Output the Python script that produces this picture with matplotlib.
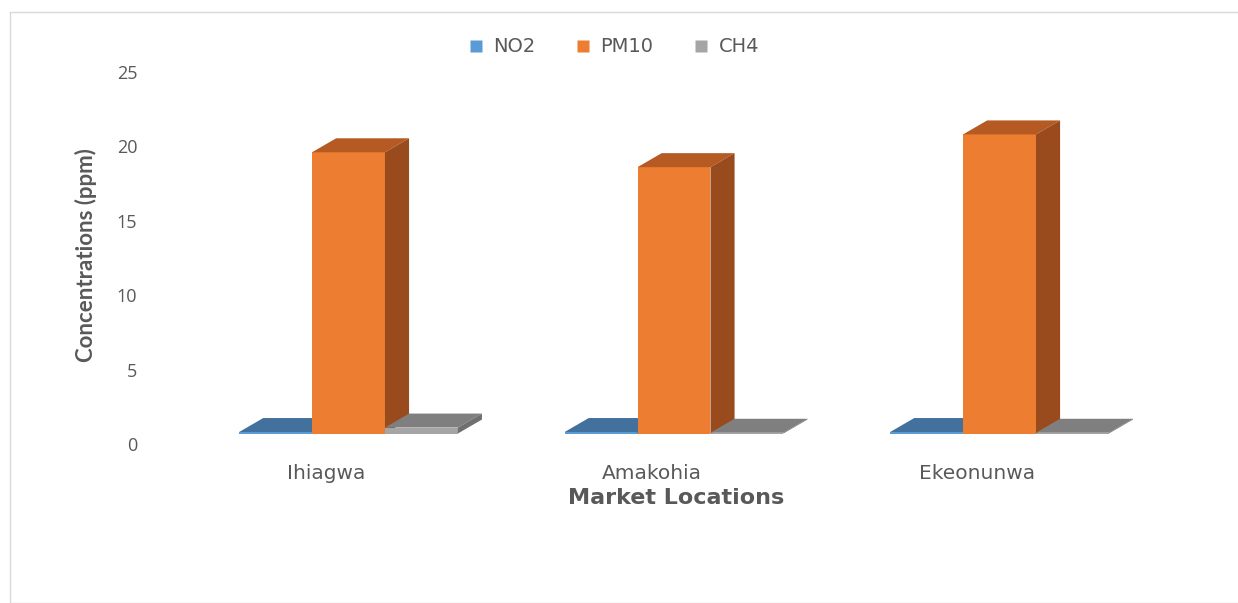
import matplotlib
matplotlib.use("Agg")
import matplotlib.pyplot as plt
import matplotlib.transforms as mtransforms
from matplotlib.patches import Polygon, Rectangle
from matplotlib.lines import Line2D

plt.rcParams['font.family'] = ['Open Sans', 'DejaVu Sans']

locations = ["Ihiagwa", "Amakohia", "Ekeonunwa"]
series = ["NO2", "PM10", "CH4"]
no2 = [0.1, 0.1, 0.1]
pm10 = [18.9, 17.9, 20.1]
ch4 = [0.4, 0.05, 0.05]
values = [no2, pm10, ch4]

# front, top, side colours for each series
front_cols = ["#5B9BD5", "#ED7D31", "#A5A5A5"]
top_cols = ["#41719C", "#B45A22", "#7F7F7F"]
side_cols = ["#3A6590", "#9A4B1D", "#6F6F6F"]
txt = "#595959"

W, H = 1238, 603
fig = plt.figure(figsize=(W / 100, H / 100), dpi=100)

# light frame round the chart area
fig.patches.append(Rectangle((10 / W, 0), 1.0, 1 - 12 / H, transform=fig.transFigure,
                             fill=False, edgecolor="#D9D9D9", linewidth=1.0))

ax = fig.add_axes([0.15004, 0.2564, 0.8151, 0.6663])
ax.set_xlim(-0.5, 2.6)
ax.set_ylim(-1, 26)

bw = 0.224      # bar width in category units
dx = 0.074      # depth offset (x)
dy = 0.94       # depth offset (y)

for i, loc in enumerate(locations):
    for s in range(3):
        v = values[s][i]
        x0 = i + (s - 1.5) * bw
        x1 = x0 + bw
        z = 10 + s
        ax.bar(x0, v, width=bw, align="edge", color=front_cols[s], zorder=z, linewidth=0)
        ax.add_patch(Polygon([(x0, v), (x1, v), (x1 + dx, v + dy), (x0 + dx, v + dy)],
                             closed=True, facecolor=top_cols[s], edgecolor="none", zorder=z))
        ax.add_patch(Polygon([(x1, 0), (x1, v), (x1 + dx, v + dy), (x1 + dx, dy)],
                             closed=True, facecolor=side_cols[s], edgecolor="none", zorder=z))

for sp in ax.spines.values():
    sp.set_visible(False)
ax.tick_params(length=0)

ax.set_yticks([0, 5, 10, 15, 20, 25])
ax.set_yticklabels(["0", "5", "10", "15", "20", "25"], fontsize=13, color=txt)
ax.tick_params(axis="y", pad=35)
yshift = mtransforms.ScaledTranslation(0, -0.105, fig.dpi_scale_trans)
for lab in ax.get_yticklabels():
    lab.set_transform(lab.get_transform() + yshift)

ax.set_xticks(range(len(locations)))
ax.set_xticklabels(locations, fontsize=14.5, color=txt, family=["DejaVu Sans"])
ax.tick_params(axis="x", pad=11)
xshift = mtransforms.ScaledTranslation(-0.22, 0, fig.dpi_scale_trans)
for lab in ax.get_xticklabels():
    lab.set_transform(lab.get_transform() + xshift)

fig.text(676 / W, 1 - 498 / H, "Market Locations", ha="center", va="center",
         fontsize=16, fontweight="bold", color=txt, family=["DejaVu Sans"])
fig.text(86 / W, 1 - 255 / H, "Concentrations (ppm)", ha="center", va="center",
         rotation=90, fontsize=16, fontweight="bold", color=txt,
         family=["Lato", "DejaVu Sans"])

handles = [Line2D([], [], linestyle="none", marker="s", markersize=9,
                  markerfacecolor=c, markeredgecolor="none") for c in front_cols]
fig.legend(handles, series, loc="center", bbox_to_anchor=(613 / W, 1 - 47 / H),
           ncol=3, frameon=False, labelcolor=txt,
           prop={"family": ["DejaVu Sans"], "size": 14},
           handletextpad=0.45, columnspacing=2.0, handlelength=0.9)

fig.savefig("out.png", dpi=100)
